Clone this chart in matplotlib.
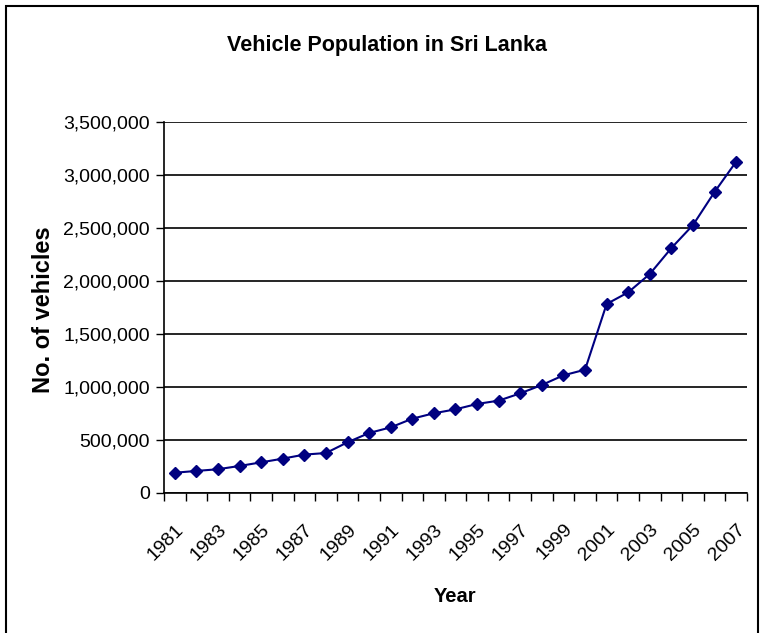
import matplotlib
matplotlib.use('Agg')
import matplotlib.pyplot as plt
from matplotlib.patches import Rectangle
from matplotlib.ticker import FuncFormatter, FixedLocator
from matplotlib.transforms import ScaledTranslation

plt.rcParams['font.family'] = ['Liberation Sans', 'DejaVu Sans']

# годы и число зарегистрированных транспортных средств
years = list(range(1981, 2008))
vehicles = [191000, 208000, 224000, 255000, 289000, 324000, 362000, 377000,
            478000, 566000, 619000, 701000, 752000, 789000, 840000, 871000,
            940000, 1019000, 1110000, 1163000, 1783000, 1893000, 2066000,
            2311000, 2528000, 2840000, 3126000]
y_ticks = [0, 500000, 1000000, 1500000, 2000000, 2500000, 3000000, 3500000]

fig = plt.figure(figsize=(7.62, 6.33), dpi=100)
ax = fig.add_axes([0.2152, 0.2212, 0.7651, 0.5861])

# рамка вокруг всей диаграммы
fig.patches.append(Rectangle((6 / 762, -0.05), 752 / 762, 1.05 - 6 / 633,
                             transform=fig.transFigure, fill=False,
                             edgecolor='black', lw=1.5))

x = list(range(len(years)))
ax.plot(x, vehicles, color='#000080', lw=1.5, marker='D', ms=6,
        markerfacecolor='#000080', markeredgecolor='#000080')

ax.set_xlim(-0.5, len(years) - 0.5)
ax.set_ylim(0, 3500000)
ax.set_yticks(y_ticks)
ax.yaxis.set_major_formatter(FuncFormatter(lambda v, p: f'{int(v):,}'))
ax.yaxis.grid(True, color='black', lw=1.2)
ax.set_axisbelow(True)

# деления между категориями, подписи через год
ax.xaxis.set_major_locator(FixedLocator([i - 0.5 for i in range(len(years) + 1)]))
ax.set_xticklabels([])
ax.set_xticks(x[::2], minor=True)
ax.set_xticklabels([str(y) for y in years[::2]], minor=True, rotation=45,
                   ha='right', va='top', rotation_mode='anchor', fontsize=14)
shift = ScaledTranslation(-10 / 100, 0, fig.dpi_scale_trans)
for lbl in ax.get_xticklabels(minor=True):
    lbl.set_transform(lbl.get_transform() + shift)
ax.tick_params(axis='x', which='minor', length=0, pad=20)
ax.tick_params(axis='x', which='major', length=6, width=1, direction='out')
ax.tick_params(axis='y', length=6, width=1, labelsize=14, pad=4)

for side in ['top', 'right']:
    ax.spines[side].set_visible(False)
ax.spines['left'].set_linewidth(1.2)
ax.spines['bottom'].set_linewidth(1.2)

fig.text(387 / 762, 1 - 45.5 / 633, 'Vehicle Population in Sri Lanka',
         ha='center', va='center', fontsize=15.5, fontweight='bold')
fig.text(44 / 762, 1 - 310 / 633, 'No. of vehicles', rotation=90,
         ha='center', va='center', fontsize=17, fontweight='bold')
fig.text(455 / 762, 1 - 596 / 633, 'Year', ha='center', va='center',
         fontsize=14.5, fontweight='bold')

plt.savefig('out.png', dpi=100)
